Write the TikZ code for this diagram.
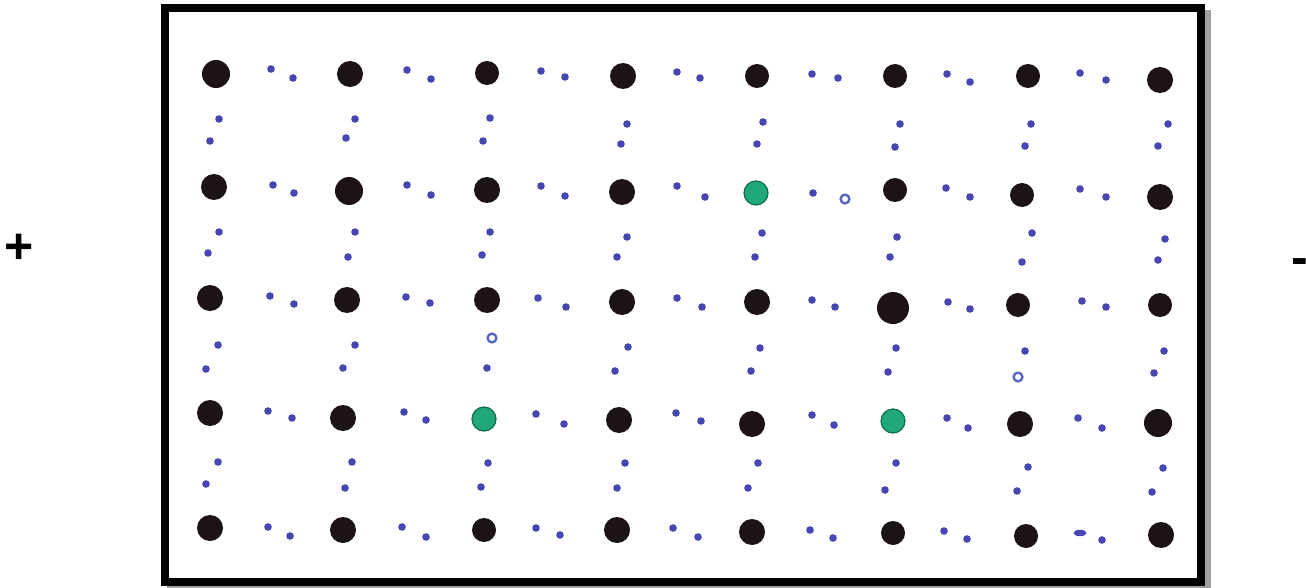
\documentclass[tikz,border=0pt]{standalone}
\usepackage{fontspec}
\setmainfont{Liberation Sans}
\definecolor{inkblack}{HTML}{1C1414}
\definecolor{inkblue}{HTML}{4646B0}
\definecolor{ringblue}{HTML}{5868C0}
\definecolor{inkgreen}{HTML}{20A878}
\definecolor{greenedge}{HTML}{0E6E4C}
\definecolor{shadowgray}{HTML}{A0A0A0}
\tikzset{
  bigdot/.style={fill=inkblack},
  smalldot/.style={fill=inkblue},
  greendot/.style={fill=inkgreen,draw=greenedge,line width=1.2pt},
  hollowdot/.style={draw=ringblue,line width=2.4pt,fill=white},
  sign/.style={font=\bfseries\fontsize{50}{50}\selectfont,inner sep=0pt,anchor=base}
}
\begin{document}
\begin{tikzpicture}[x=1pt,y=-1pt]
\useasboundingbox (0,0) rectangle (1306,588);
% frame with shadow
\fill[shadowgray] (167,10) rectangle (1211,592);
\draw[line width=8pt,fill=white] (165,8) rectangle (1201,582);
% signs
\node[sign] (plus) at (19,263) {+};
\node[sign] (minus) at (1299.5,274) {-};
% big black dots
\foreach \x/\y/\r in {
 216/74/14, 350/74/13, 487/73/12, 623/76/13, 757/76/12, 895/76/12, 1028/76/12, 1160/80/13,
 214/187/13, 349/191/14, 487/190/13, 622/192/13, 895/190/12, 1022/195/12, 1160/197/13,
 210/298/13, 347/300/13, 487/300/13, 622/302/13, 757/302/13, 893/308/16, 1018/305/12, 1160/305/12,
 210/413/13, 343/418/13, 619/420/13, 752/424/13, 1020/424/13, 1158/423/14,
 210/528/13, 343/530/13, 484/530/12, 617/530/13, 752/532/13, 893/533/12, 1026/536/12, 1161/535/13}
 {\fill[bigdot] (\x,\y) circle (\r);}
% green dots
\foreach \x/\y in {756/193, 484/419, 893/421}
 {\draw[greendot] (\x,\y) circle (12);}
% small blue dots
\foreach \x/\y in {
 271/69, 293/78, 407/70, 431/79, 541/71, 565/77, 677/72, 700/78, 812/74, 838/78, 947/74, 970/82, 1080/73, 1106/80,
 219/119, 210/141, 355/119, 346/138, 490/118, 483/141, 627/124, 621/144, 763/122, 757/144, 900/124, 895/147, 1031/124, 1025/146, 1168/124, 1158/146,
 273/185, 294/193, 407/185, 431/195, 541/186, 565/196, 677/186, 705/197, 813/193, 946/188, 970/197, 1080/189, 1106/197,
 219/232, 208/253, 355/232, 348/257, 490/232, 482/255, 627/237, 617/257, 762/233, 755/257, 897/237, 890/257, 1032/233, 1022/262, 1165/239, 1158/260,
 270/296, 294/304, 406/297, 430/303, 538/298, 566/307, 677/298, 702/307, 812/300, 835/307, 948/302, 970/309, 1082/301, 1106/307,
 218/345, 206/369, 355/345, 343/368, 487/368, 628/347, 615/371, 760/348, 751/371, 896/348, 888/372, 1025/351, 1164/351, 1154/373,
 268/411, 292/418, 404/412, 426/420, 536/414, 564/424, 676/413, 701/421, 812/415, 834/425, 947/418, 968/428, 1078/418, 1102/428,
 218/462, 206/484, 352/462, 345/488, 488/463, 481/487, 625/463, 617/488, 758/463, 748/488, 896/463, 885/490, 1028/467, 1017/491, 1163/468, 1152/492,
 268/527, 290/536, 402/527, 426/537, 536/528, 560/535, 673/528, 698/537, 810/530, 833/538, 944/531, 967/539, 1102/540}
 {\fill[smalldot] (\x,\y) circle (3.8);}
% elongated smudge
\fill[smalldot] (1080,533) ellipse (6.5 and 3.2);
% hollow blue dots
\foreach \x/\y in {845/199, 492/338, 1018/377}
 {\draw[hollowdot] (\x,\y) circle (4.4);}
\end{tikzpicture}
\end{document}
